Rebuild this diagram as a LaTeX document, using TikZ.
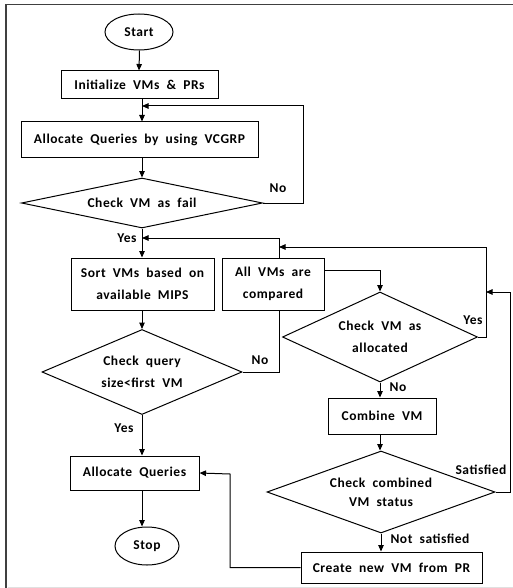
\documentclass[tikz,border=0pt]{standalone}
\usepackage{fontspec}
\setmainfont{Carlito}[LetterSpace=4,WordSpace=2]
\usetikzlibrary{shapes.geometric,arrows.meta}
\tikzset{
  txt/.style={font=\bfseries\fontsize{13.5}{22}\selectfont},
  box/.style={draw,line width=1pt,rectangle,inner sep=0pt,align=center,txt},
  term/.style={draw,line width=1pt,ellipse,inner sep=0pt,txt},
  dec/.style={draw,line width=1pt,diamond,inner sep=0pt,align=center,txt},
  lab/.style={inner sep=0pt,font=\bfseries\fontsize{13.5}{15}\selectfont},
  conn/.style={line width=1pt},
  arr/.style={line width=1pt,-{Triangle[length=6.5pt,width=5.5pt]}}
}
\begin{document}
\begin{tikzpicture}[x=1pt,y=-1pt]
\useasboundingbox (0,0) rectangle (513,588);
% frame
\draw[line width=1.6pt,black!75] (6,588) -- (6,4.5) -- (513,4.5);
\draw[line width=0.6pt,black!12] (8,587) -- (513,587);
% nodes
\node[term,minimum width=68pt,minimum height=36pt] (start) at (139,32) {Start};
\node[box,minimum width=157pt,minimum height=28pt] (init) at (139.5,85) {Initialize VMs \& PRs};
\node[box,minimum width=237pt,minimum height=36pt] (vcgrp) at (139.5,140) {Allocate Queries by using VCGRP};
\node[dec,aspect=4.8,minimum width=241pt,minimum height=50pt] (fail) at (142,203) {Check VM as fail};
\node[box,minimum width=143pt,minimum height=52pt] (sort) at (142.5,284) {Sort VMs based on\\available MIPS};
\node[box,minimum width=102pt,minimum height=52pt] (allvms) at (273,284) {All VMs are\\compared};
\node[dec,aspect=2.35,minimum width=200pt,minimum height=85pt] (query) at (142,372) {Check query\\size<first VM};
\node[box,minimum width=129pt,minimum height=34pt] (alloc) at (134.5,473) {Allocate Queries};
\node[term,minimum width=64pt,minimum height=38pt] (stop) at (147,546) {Stop};
\node[dec,aspect=2.17,minimum width=195pt,minimum height=90pt] (allocated) at (380,337) {Check VM as\\allocated};
\node[box,minimum width=108pt,minimum height=36pt] (combine) at (382,416) {Combine VM};
\node[dec,aspect=2.78,minimum width=228pt,minimum height=82pt,font=\bfseries\fontsize{13.5}{19}\selectfont] (combined) at (381,492) {Check combined\\VM status};
\node[box,minimum width=181pt,minimum height=31pt] (create) at (391.5,567.5) {Create new VM from PR};
% helper coordinates
\coordinate (nr) at (303,106);
\coordinate (a1) at (279,238);
\coordinate (a2) at (380,270);
\coordinate (a3) at (486,247);
\coordinate (a4) at (510,292);
\coordinate (a5) at (230,474);
% connectors
\draw[arr] (start.south -| init) -- (init.north -| start.south);
\draw[arr] (init.south -| fail) -- (vcgrp.north -| fail);
\draw[arr] (vcgrp.south -| fail) -- (fail.north);
\draw[arr] (fail.east) -| (nr) -- (nr -| fail);
\draw[arr] (fail.south) -- (sort.north -| fail);
\draw[arr] (allvms.north -| a1) -- (a1) -- (a1 -| fail);
\draw[arr] (sort.south -| query) -- (query.north);
\draw[conn] (query.east) -| (allvms.south -| a1);
\draw[arr] (allvms.east |- a2) -- (a2) -- (allocated.north);
\draw[arr] (allocated.east) -| (a3) -- (a3 -| a1);
\draw[arr] (query.south) -- (query.south |- alloc.north);
\draw[arr] (query.south |- alloc.south) -- (query.south |- stop.north);
\draw[arr] (allocated.south) -- (allocated.south |- combine.north);
\draw[arr] (combine.south -| allocated) -- (combined.north -| allocated);
\draw[arr] (combined.south) -- (combined.south |- create.north);
\draw[arr] (combined.east) -| (a4) -- (a4 -| a3);
\draw[arr] (create.west) -| (a5) -- (alloc.east);
% labels
\node[lab] (l1) at (278,188) {No};
\node[lab] (l2) at (127,238) {Yes};
\node[lab] (l3) at (260,360) {No};
\node[lab] (l4) at (473,320) {Yes};
\node[lab] (l5) at (124,428) {Yes};
\node[lab] (l6) at (398,387) {No};
\node[lab] (l7) at (481,470) {Satisfied};
\node[lab] (l8) at (430,539) {Not satisfied};
\end{tikzpicture}
\end{document}
